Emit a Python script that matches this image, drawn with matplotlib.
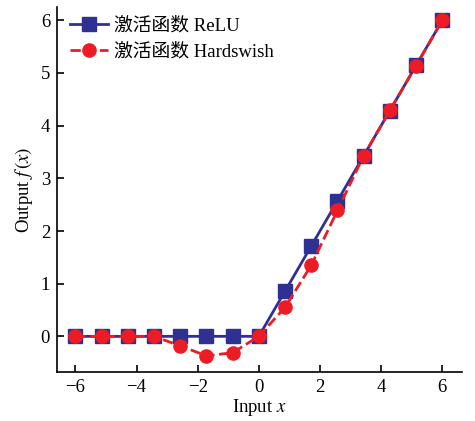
import matplotlib
matplotlib.use("Agg")
import matplotlib.pyplot as plt

x_vals = [-6.0, -5.143, -4.286, -3.429, -2.571, -1.714, -0.857, 0.0,
          0.857, 1.714, 2.571, 3.429, 4.286, 5.143, 6.0]
relu_vals = [0, 0, 0, 0, 0, 0, 0, 0, 0.857, 1.714, 2.571, 3.429, 4.286, 5.143, 6.0]
hswish_vals = [0, 0, 0, 0, -0.18, -0.37, -0.31, 0, 0.55, 1.35, 2.39, 3.43, 4.29, 5.14, 6.0]
labels = ["激活函数 ReLU", "激活函数 Hardswish"]
x_ticks = [-6, -4, -2, 0, 2, 4, 6]
y_ticks = [0, 1, 2, 3, 4, 5, 6]

plt.rcParams['font.family'] = ['Liberation Serif', 'Noto Sans CJK SC']
plt.rcParams['mathtext.fontset'] = 'stix'

fig = plt.figure(figsize=(4.75, 4.21), dpi=100)
ax = fig.add_axes([0.12, 0.116, 0.853, 0.867])

blue = '#2E3192'
red = '#ED1C24'
ax.plot(x_vals, relu_vals, '-', color=blue, lw=2, marker='s', ms=9.5, label=labels[0])
ax.plot(x_vals, hswish_vals, '--', color=red, lw=2, marker='o', ms=9.5, label=labels[1])

ax.set_xlim(-6.6, 6.65)
ax.set_ylim(-0.68, 6.25)
ax.set_xticks(x_ticks)
ax.set_yticks(y_ticks)
ax.set_xticklabels([str(t).replace('-', '\u2212') for t in x_ticks])
ax.tick_params(direction='in', labelsize=13.5, length=5, width=1.2, pad=5)
for s in ['top', 'right']:
    ax.spines[s].set_visible(False)
for s in ['left', 'bottom']:
    ax.spines[s].set_linewidth(1.2)

ax.set_xlabel('Input $x$', fontsize=13.5, labelpad=1)
ax.set_ylabel('Output $f\\,(x)$', fontsize=13.5, labelpad=4)

ax.legend(loc='upper left', frameon=False, fontsize=13.5, handlelength=2.0,
          borderaxespad=0.1, handletextpad=0.3, labelspacing=0.45,
          bbox_to_anchor=(0.01, 1.0))

fig.savefig('out.png', dpi=100)
